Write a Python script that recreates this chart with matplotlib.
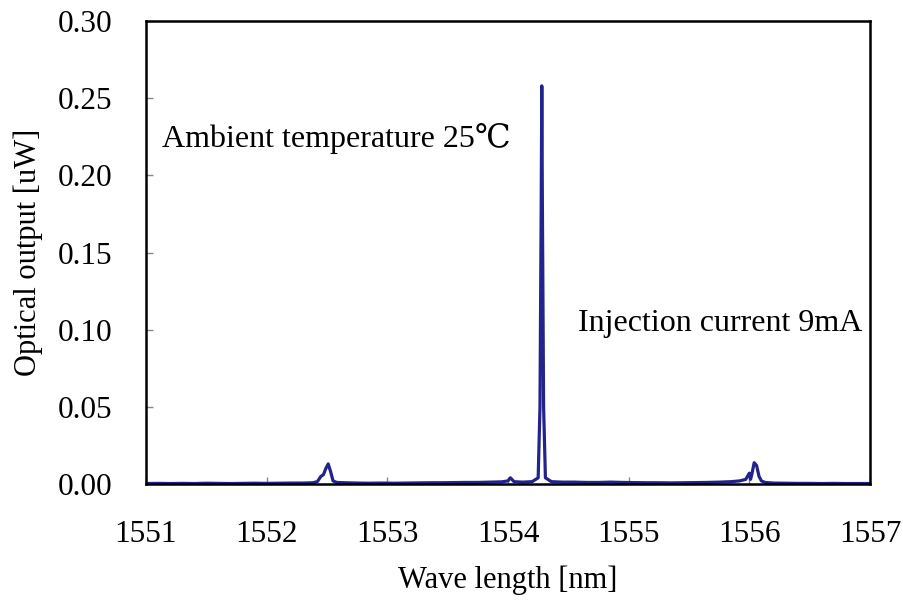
import matplotlib
matplotlib.use('Agg')
import matplotlib.pyplot as plt

# measured spectrum (wavelength in nm, optical output in uW)
wavelength = [
    1551.00, 1551.10, 1551.20, 1551.30, 1551.40, 1551.50, 1551.60, 1551.70,
    1551.80, 1551.90, 1552.00, 1552.10, 1552.20, 1552.30, 1552.38, 1552.42,
    1552.45, 1552.47, 1552.49, 1552.51, 1552.53, 1552.55, 1552.58, 1552.65,
    1552.75, 1552.85, 1552.95, 1553.05, 1553.15, 1553.25, 1553.35, 1553.45,
    1553.55, 1553.65, 1553.75, 1553.85, 1553.95, 1554.00, 1554.02, 1554.05,
    1554.12, 1554.20, 1554.25, 1554.265, 1554.275, 1554.28, 1554.285, 1554.295,
    1554.31, 1554.36, 1554.45, 1554.55, 1554.65, 1554.75, 1554.85, 1554.95,
    1555.05, 1555.15, 1555.25, 1555.35, 1555.45, 1555.55, 1555.65, 1555.75,
    1555.85, 1555.92, 1555.97, 1556.00, 1556.01, 1556.02, 1556.04, 1556.06,
    1556.08, 1556.10, 1556.13, 1556.20, 1556.30, 1556.40, 1556.50, 1556.60,
    1556.70, 1556.80, 1556.90, 1557.00,
]
power = [
    0.0003, 0.0004, 0.0003, 0.0004, 0.0003, 0.0005, 0.0004, 0.0003,
    0.0004, 0.0005, 0.0004, 0.0005, 0.0006, 0.0006, 0.0008, 0.0015,
    0.0050, 0.0060, 0.0100, 0.0130, 0.0080, 0.0020, 0.0010, 0.0008,
    0.0006, 0.0005, 0.0006, 0.0005, 0.0006, 0.0007, 0.0008, 0.0008,
    0.0009, 0.0010, 0.0010, 0.0012, 0.0014, 0.0020, 0.0040, 0.0015,
    0.0012, 0.0015, 0.0040, 0.0500, 0.1800, 0.2580, 0.1800, 0.0500,
    0.0040, 0.0015, 0.0012, 0.0012, 0.0010, 0.0010, 0.0012, 0.0010,
    0.0009, 0.0008, 0.0008, 0.0007, 0.0008, 0.0009, 0.0010, 0.0012,
    0.0015, 0.0020, 0.0030, 0.0070, 0.0030, 0.0060, 0.0138, 0.0120,
    0.0050, 0.0020, 0.0010, 0.0006, 0.0005, 0.0004, 0.0004, 0.0003,
    0.0004, 0.0003, 0.0003, 0.0003,
]

x_ticks = [1551, 1552, 1553, 1554, 1555, 1556, 1557]
y_ticks = [0.00, 0.05, 0.10, 0.15, 0.20, 0.25, 0.30]

serif = ['Liberation Serif', 'DejaVu Serif', 'DejaVu Sans']
plt.rcParams['font.family'] = serif

fig = plt.figure(figsize=(9.04, 6.01), dpi=100)
ax = fig.add_axes([0.1615, 0.1947, 0.8009, 0.7703])

ax.plot(wavelength, power, color='#23238c', linewidth=2.3)

ax.set_xlim(1551, 1557)
ax.set_ylim(0, 0.30)
ax.set_xticks(x_ticks)
ax.set_xticklabels([str(t) for t in x_ticks])
ax.set_yticks(y_ticks)
ax.set_yticklabels([f'{t:.2f}' for t in y_ticks])

ax.tick_params(axis='both', direction='in', length=5, width=1, labelsize=22.5,
               color='#888888')
ax.tick_params(axis='x', pad=26)
ax.tick_params(axis='y', pad=24)
for spine in ax.spines.values():
    spine.set_linewidth(1.8)
    spine.set_color('black')

ax.set_xlabel('Wave length [nm]', fontsize=22, labelpad=12)
ax.set_ylabel('Optical output [uW]', fontsize=22, labelpad=11)

ax.text(1551.13, 0.224, 'Ambient temperature 25\u2103', fontsize=23,
        va='center', ha='left', family=serif)
ax.text(1554.58, 0.104, 'Injection current 9mA', fontsize=23,
        va='center', ha='left', family=serif)

plt.savefig('out.png', dpi=100)
